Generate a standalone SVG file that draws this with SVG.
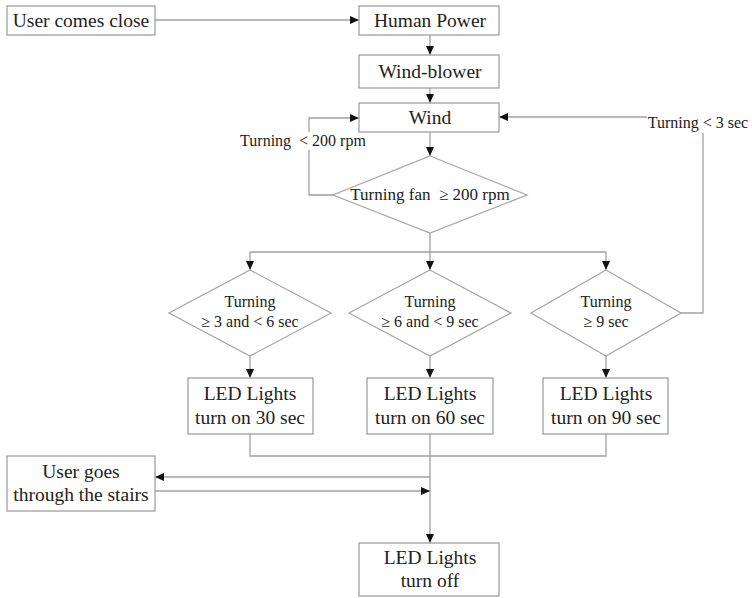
<svg xmlns="http://www.w3.org/2000/svg" width="752" height="598" viewBox="0 0 752 598">
<style>
.box{fill:#fff;stroke:#a0a0a0;stroke-width:1.3}
.dia{fill:#fff;stroke:#a8a8a8;stroke-width:1.3}
.ln{fill:none;stroke:#a0a0a0;stroke-width:1.3}
.t{font-family:"Liberation Serif","Times New Roman",serif;fill:#222;text-anchor:middle}
.b{font-size:19.5px}
.s{font-size:16px}
</style>
<defs>
<marker id="ah" markerWidth="10" markerHeight="10" refX="9" refY="4" orient="auto" markerUnits="userSpaceOnUse">
<path d="M0,0 L9,4 L0,8 Z" fill="#111"/>
</marker>
</defs>
<rect width="752" height="598" fill="#fff"/>
<g id="connectors">
<path class="ln" d="M155,20 H359" marker-end="url(#ah)"/>
<path class="ln" d="M430,35 V55" marker-end="url(#ah)"/>
<path class="ln" d="M430,88 V103" marker-end="url(#ah)"/>
<path class="ln" d="M430,132 V156" marker-end="url(#ah)"/>
<path class="ln" d="M333,195 H309 V118 H359" marker-end="url(#ah)"/>
<path class="ln" d="M430,233 V270" marker-end="url(#ah)"/>
<path class="ln" d="M250,252 V270" marker-end="url(#ah)"/>
<path class="ln" d="M250,252 H606 V270" marker-end="url(#ah)"/>
<path class="ln" d="M681,313 H703 V133"/>
<path class="ln" d="M647,117 H499" marker-end="url(#ah)"/>
<path class="ln" d="M250,356 V378" marker-end="url(#ah)"/>
<path class="ln" d="M430,356 V378" marker-end="url(#ah)"/>
<path class="ln" d="M606,356 V378" marker-end="url(#ah)"/>
<path class="ln" d="M250,434 V456 H606 V434"/>
<path class="ln" d="M430,434 V543" marker-end="url(#ah)"/>
<path class="ln" d="M430,477 H155" marker-end="url(#ah)"/>
<path class="ln" d="M155,491 H430" marker-end="url(#ah)"/>
<rect x="238" y="132" width="130" height="18" fill="#fff"/>
<text class="t s" x="303" y="146" xml:space="preserve">Turning  &lt; 200 rpm</text>
<text class="t s" x="698" y="128">Turning &lt; 3 sec</text>
</g>
<g id="n-user-close"><rect class="box" x="7" y="6" width="148" height="29"/><text class="t b" x="81" y="27">User comes close</text></g>
<g id="n-human-power"><rect class="box" x="359" y="6" width="140" height="29"/><text class="t b" x="430" y="27">Human Power</text></g>
<g id="n-wind-blower"><rect class="box" x="359" y="55" width="140" height="33"/><text class="t b" x="430" y="78">Wind-blower</text></g>
<g id="n-wind"><rect class="box" x="359" y="103" width="140" height="29"/><text class="t b" x="430" y="124">Wind</text></g>
<g id="n-fan"><polygon class="dia" points="430,156 527,195 430,233 333,195"/><text class="t" x="430" y="200" font-size="17px" xml:space="preserve">Turning fan  ≥ 200 rpm</text></g>
<g id="n-d1"><polygon class="dia" points="250,270 331,313 250,356 169,313"/><text class="t s" x="250" y="307">Turning</text><text class="t s" x="250" y="327">≥ 3 and &lt; 6 sec</text></g>
<g id="n-d2"><polygon class="dia" points="430,270 511,313 430,356 349,313"/><text class="t s" x="430" y="307">Turning</text><text class="t s" x="430" y="327">≥ 6 and &lt; 9 sec</text></g>
<g id="n-d3"><polygon class="dia" points="606,270 681,313 606,356 531,313"/><text class="t s" x="606" y="307">Turning</text><text class="t s" x="606" y="327">≥ 9 sec</text></g>
<g id="n-led30"><rect class="box" x="188" y="378" width="125" height="56"/><text class="t b" x="250" y="400">LED Lights</text><text class="t b" x="250" y="424">turn on 30 sec</text></g>
<g id="n-led60"><rect class="box" x="367" y="378" width="126" height="56"/><text class="t b" x="430" y="400">LED Lights</text><text class="t b" x="430" y="424">turn on 60 sec</text></g>
<g id="n-led90"><rect class="box" x="543" y="378" width="125" height="56"/><text class="t b" x="606" y="400">LED Lights</text><text class="t b" x="606" y="424">turn on 90 sec</text></g>
<g id="n-stairs"><rect class="box" x="7" y="456" width="148" height="55"/><text class="t b" x="81" y="478">User goes</text><text class="t b" x="81" y="501">through the stairs</text></g>
<g id="n-off"><rect class="box" x="359" y="543" width="140" height="53"/><text class="t b" x="430" y="564">LED Lights</text><text class="t b" x="430" y="587">turn off</text></g>
</svg>
